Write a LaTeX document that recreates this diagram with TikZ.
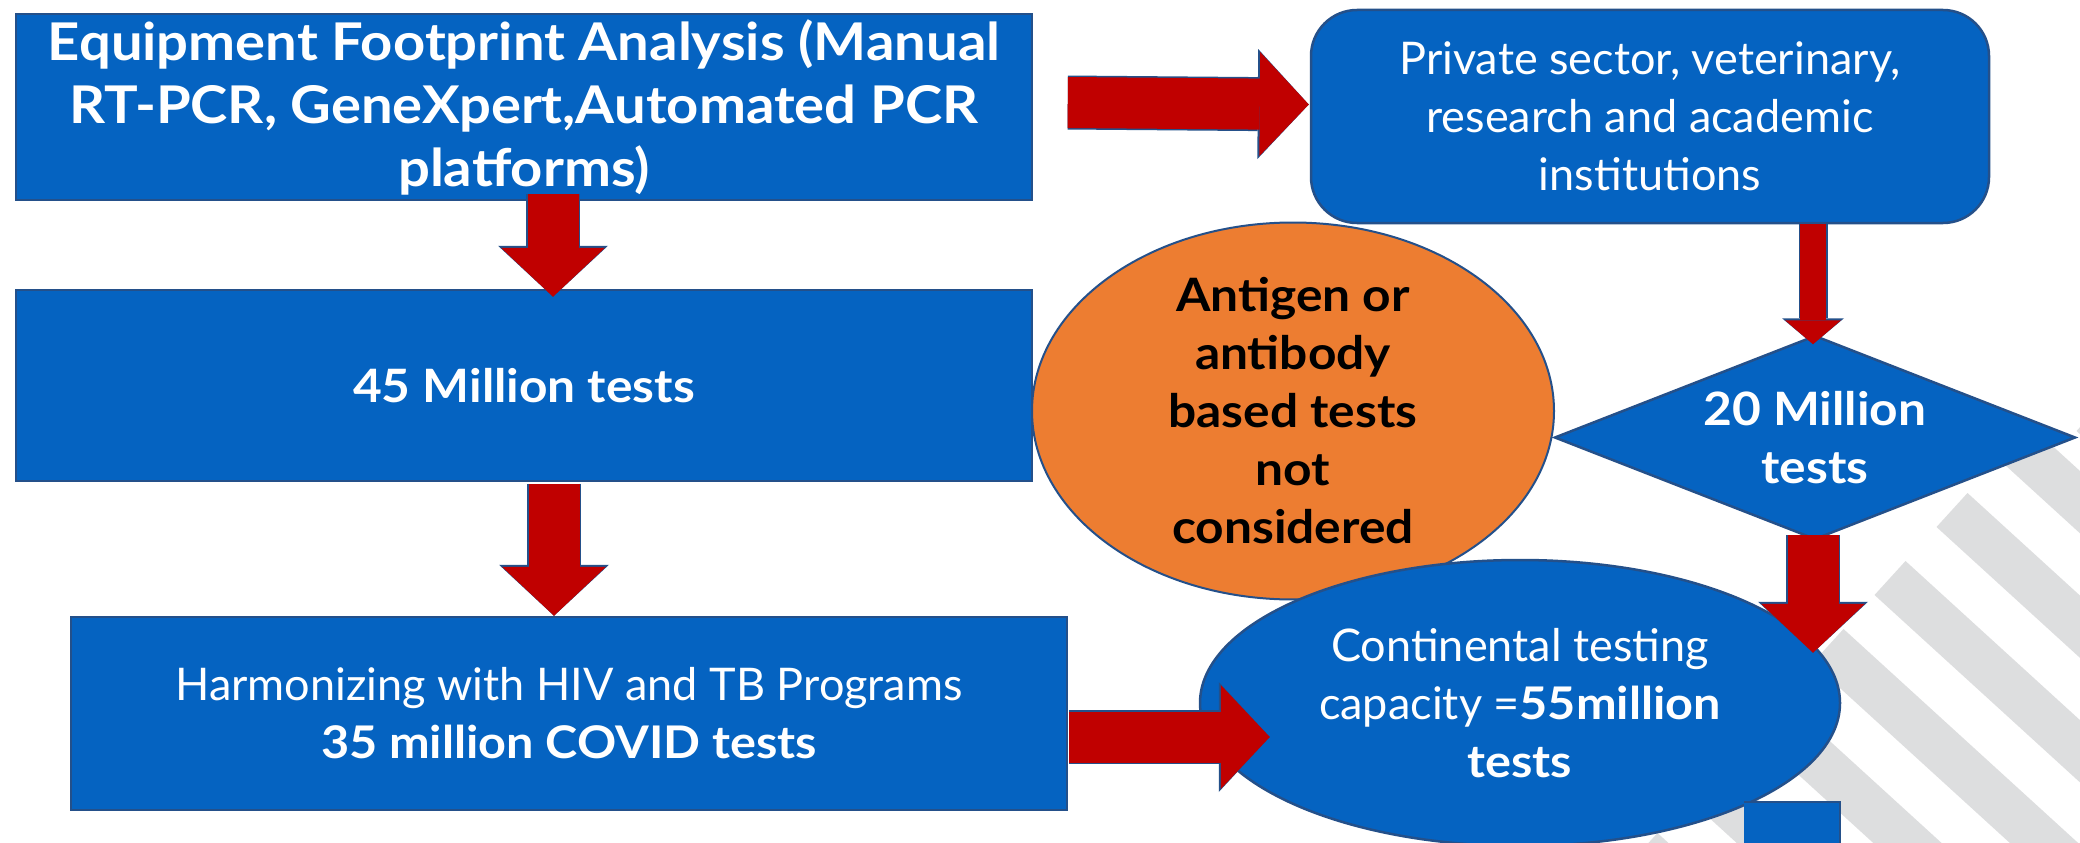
\documentclass[tikz,border=0pt]{standalone}
\usepackage{fontspec}
\setmainfont{Lato}[BoldFeatures={FakeStretch=1.08}]
\usepackage{xcolor}
\usepackage{tikz}
\usetikzlibrary{positioning,calc,shapes.geometric,arrows.meta}

\definecolor{boxblue}{HTML}{0563C1}
\definecolor{edgeblue}{HTML}{24508A}
\definecolor{arrowred}{HTML}{C00000}
\definecolor{antiorange}{HTML}{ED7D31}
\definecolor{stripegray}{HTML}{DDDEDF}

\begin{document}
\begin{tikzpicture}[x=1pt,y=-1pt,
		blockbox/.style={draw=edgeblue, line width=2.5pt, fill=boxblue, text=white, align=center, inner sep=0pt},
		bodytext/.style={font=\fontsize{45}{58}\selectfont},
		boldtext/.style={font=\bfseries\fontsize{46}{58}\selectfont},
		bigarrow/.style={draw=arrowred, line width=51pt, shorten <=1.5pt, -{Triangle[length=49pt,width=104pt,line width=0pt]},
			preaction={draw=edgeblue, line width=54pt, -{Triangle[length=51pt,width=110pt,line width=0pt]}}},
		smallarrow/.style={draw=arrowred, line width=26pt, shorten <=1.5pt, -{Triangle[length=24pt,width=56pt,line width=0pt]},
			preaction={draw=edgeblue, line width=29pt, -{Triangle[length=26pt,width=62pt,line width=0pt]}}}]
		\useasboundingbox (0,0) rectangle (2080,843);
		\fill[white] (0,0) rectangle (2080,843);
		
		\begin{scope}
			\clip (0,0) rectangle (2080,843);
			\foreach \k in {-1,...,5}
				\fill[stripegray] ($(1952-62*\k,510+68*\k)+(-15.5,17)$) -- ++(31,-34) -- ++(591,539) -- ++(-31,34) -- cycle;
			\fill[stripegray] ($(2092,414)+(-15.5,17)$) -- ++(31,-34) -- ++(591,539) -- ++(-31,34) -- cycle;
		\end{scope}
		
		\node[blockbox, minimum width=1016pt, minimum height=186pt, font=\bfseries\fontsize{52}{63}\selectfont] (equip) at (524,107) {Equipment Footprint Analysis (Manual\\RT-PCR, GeneXpert,Automated PCR\\platforms)};
		\node[blockbox, rounded corners=46pt, minimum width=678pt, minimum height=213pt, bodytext] (priv) at (1650,116.5) {Private sector, veterinary,\\research and academic\\institutions};
		\node[blockbox, minimum width=1016pt, minimum height=191pt, boldtext] (tests45) at (524,385.5) {45 Million tests};
		\node[blockbox, minimum width=996pt, minimum height=193pt, bodytext] (harm) at (569,713.5) {Harmonizing with HIV and TB Programs\\\textbf{35 million COVID tests}};
		\node[ellipse, draw=edgeblue, line width=2pt, fill=antiorange, text=black, align=center, inner sep=0pt, minimum width=522pt, minimum height=345pt, boldtext] (anti) at (1293,411) {Antigen or\\antibody\\based tests\\not\\considered};
		\node[diamond, blockbox, shape aspect=2.55, minimum width=521pt, minimum height=204pt, boldtext] (dia) at (1815,437.5) {20 Million\\tests};
		\node[ellipse, blockbox, minimum width=640pt, minimum height=286pt, bodytext] (cont) at (1520,703) {Continental testing\\capacity =\textbf{55million}\\\textbf{tests}};
		\fill[boxblue] (1744,802) rectangle (1840,850);
		\draw[edgeblue, line width=2.5pt] (1744,802) -- (1840,802) -- (1840,850);
		
		\draw[bigarrow] ($(equip.south)+(29,-9)$) -- ($(tests45.north)+(29,8)$);
		\draw[bigarrow] ($(tests45.south)+(30,0)$) -- ($(harm.north)+(-15,0)$);
		\draw[bigarrow] ($(equip.east)+(33,-4.5)$) -- ($(priv.west)+(-1,-12)$);
		\draw[smallarrow] ($(priv.south)+(163,-2)$) -- ($(dia.north)+(-2,10)$);
		\draw[bigarrow] ($(dia.south)+(-2,-7)$) -- ($(cont.north)+(293,94)$);
		\draw[bigarrow] ($(harm.east)+(-1,23.5)$) -- ($(cont.west)+(71,34)$);
	\end{tikzpicture}
\end{document}
